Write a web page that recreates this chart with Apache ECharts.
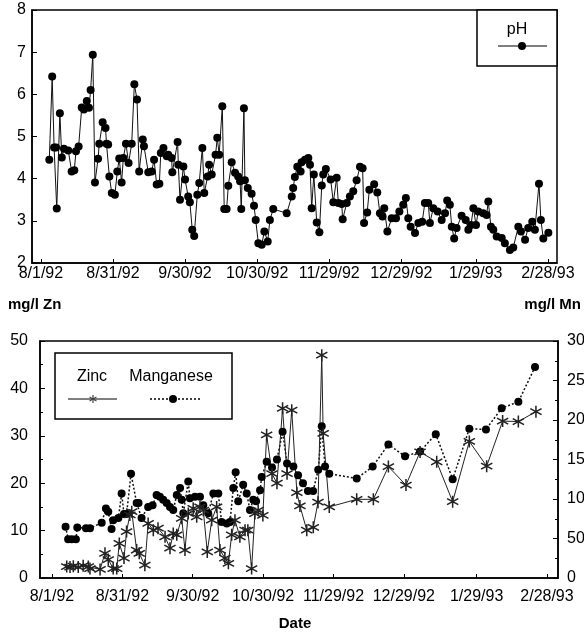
<!DOCTYPE html>
<html>
<head>
<meta charset="utf-8">
<script src="https://cdn.jsdelivr.net/npm/echarts@6.0.0/dist/echarts.min.js"></script>
<style>
  html, body { margin: 0; padding: 0; background: #fff; }
  #chart { width: 584px; height: 634px; }
</style>
</head>
<body>
<div id="chart"></div>
<script>
// days counted from 8/1/92
const tickDays = [0, 30, 60, 90, 120, 150, 181, 211];
const tickLabels = ['8/1/92', '8/31/92', '9/30/92', '10/30/92', '11/29/92', '12/29/92', '1/29/93', '2/28/93'];

// pH (top panel)
const phDays = [3.5, 4.7, 5.5, 6.3, 6.6, 7.9, 8.7, 9.6, 11.4, 12.8, 13.9, 14.6, 15.7, 17, 17.9, 19.1, 20, 20.7, 21.6, 22.5,
  23.8, 24.3, 25.7, 26.9, 27.3, 28, 28.5, 29.5, 30.8, 31.8, 32.6, 33.6, 34.3, 35.4, 36.5, 37.8, 38.9, 40, 40.9, 42.4,
  42.9, 44.7, 46.1, 47.1, 48.2, 49.3, 49.9, 51, 52.4, 53, 54.4, 54.7, 56.9, 57.2, 57.9, 59.3, 60, 61.3, 62, 63,
  63.8, 65.1, 65.9, 67.2, 68, 69.4, 70, 71.1, 72.7, 73.4, 74.2, 75.5, 76.3, 77.3, 78, 79.4, 80.8, 82.1, 82.9, 83.4,
  84.5, 84.9, 86.1, 87.7, 88.7, 89.4, 90.5, 91.9, 93, 94.4, 95.3, 96.7, 102.3, 104.4, 105, 105.7, 106.7, 108.1, 108.5, 109.9,
  111.3, 112, 112.7, 113.6, 114.8, 115.9, 116.9, 117.5, 118.6, 120.6, 121.7, 123.1, 123.8, 125.2, 125.6, 127.3, 128.6, 130, 131.4, 132.8,
  133.9, 134.5, 135.8, 136.7, 138.7, 140, 141.1, 142.2, 142.9, 144.2, 146, 147.8, 149.2, 150.8, 151.9, 152.9, 153.9, 155.7, 157.1, 158.7,
  159.8, 161.2, 161.9, 163.3, 165.1, 166.8, 168.2, 169.1, 170.2, 171, 172, 173, 175.1, 176.8, 177.9, 179, 180, 181.1, 182, 184.1,
  185.5, 186.2, 187.3, 188.3, 189.7, 191.8, 193.1, 195.2, 196.6, 198.7, 199.8, 201.5, 202.8, 204.5, 205.6, 207.3, 208.1, 209.1, 211.2];
const phValues = [4.45, 6.42, 4.74, 4.74, 3.29, 5.55, 4.5, 4.71, 4.67, 4.17, 4.2, 4.65, 4.76, 5.69, 5.64, 5.84, 5.68, 6.1, 6.94, 3.91,
  4.47, 4.83, 5.34, 5.2, 4.83, 4.81, 4.05, 3.66, 3.62, 4.17, 4.48, 3.91, 4.49, 4.83, 4.37, 4.83, 6.24, 5.88, 4.17, 4.93,
  4.77, 4.15, 4.17, 4.45, 3.86, 3.88, 4.61, 4.73, 4.53, 4.57, 4.49, 4.15, 4.87, 4.33, 3.5, 4.29, 3.98, 3.58, 3.44, 2.79,
  2.64, 3.62, 3.9, 4.73, 3.66, 4.05, 4.33, 4.1, 4.57, 4.97, 4.57, 5.72, 3.28, 3.28, 3.83, 4.39, 4.14, 4.05, 3.94, 3.28,
  5.67, 3.96, 3.78, 3.64, 3.36, 3.02, 2.47, 2.43, 2.75, 2.51, 3.02, 3.28, 3.18, 3.58, 3.78, 4.04, 4.28, 4.17, 4.39, 4.45,
  4.49, 4.33, 3.3, 4.1, 2.96, 2.73, 3.84, 4.1, 4.23, 3.98, 3.44, 4.02, 3.42, 3.4, 3.04, 3.42, 3.58, 3.7, 3.96, 4.28,
  4.25, 2.95, 3.2, 3.74, 3.87, 3.67, 3.18, 3.1, 3.3, 2.75, 3.06, 3.06, 3.22, 3.38, 3.54, 3.06, 2.86, 2.71, 2.95, 2.98,
  3.42, 3.42, 2.95, 3.3, 3.22, 3.02, 3.18, 3.48, 3.38, 2.86, 2.58, 2.83, 3.12, 3.02, 2.79, 2.9, 3.3, 2.9, 3.22, 3.18,
  3.14, 3.46, 2.86, 2.79, 2.63, 2.59, 2.47, 2.31, 2.37, 2.86, 2.75, 2.55, 2.83, 2.98, 2.79, 3.88, 3.02, 2.58, 2.72];

// zinc, mg/l (bottom panel, left axis)
const znDays = [6.3, 7.7, 9.1, 11.2, 13.3, 15.5, 16.2, 20.5, 22.6, 24, 26.1, 27.6, 28.7, 30.7, 31.8, 33.2, 34, 36.1, 37.2, 39.6,
  41, 43.2, 45.2, 48.2, 50.3, 51.7, 53.2, 55.3, 56.7, 58.1, 60.2, 61.7, 63.1, 64.5, 66.2, 68.1, 70.2, 71.6, 73.7, 75.2,
  76.6, 78, 80.1, 82.3, 83.5, 85.1, 86.5, 87.9, 89.9, 91.5, 93.8, 95.9, 98.3, 100.2, 102.2, 104.4, 105.7, 108.6, 111.4, 113.4,
  115, 115.6, 118.2, 129.9, 137, 143.4, 150.9, 156.9, 164, 170.8, 177.9, 185.3, 192.1, 198.8, 206.3];
const znValues = [2.4, 2.3, 2.5, 2.3, 2.6, 2.4, 2.0, 1.8, 5.2, 3.9, 2.0, 2.0, 7.3, 4.2, 9.8, 13.3, 14, 5.9, 5.2, 2.7,
  11.5, 10.1, 10.5, 8.7, 6.3, 9.4, 9.1, 12.6, 5.9, 13.6, 14.7, 12.9, 15, 14.3, 5.5, 12.2, 15, 5.9, 4.2, 3.1,
  9.1, 12.2, 8.7, 10.1, 10.1, 2.0, 13.6, 14.3, 13.2, 30.2, 22, 20, 35.8, 22, 35.4, 18, 15.2, 10.1, 10.7, 16,
  47, 30.5, 15, 16.6, 16.6, 23.5, 19.6, 26.6, 24.5, 16.1, 28.8, 23.6, 33.1, 33, 35.1];

// manganese, mg/l (bottom panel, right axis)
const mnDays = [5.8, 6.9, 8.4, 10.2, 10.8, 14.5, 16.2, 21.2, 23, 24, 25.4, 26.1, 28.3, 29.7, 30.7, 31.8, 33.7, 36.1, 36.9, 38.2,
  41, 42.9, 44.6, 46, 47.4, 48.9, 50.3, 51.7, 53.2, 54.6, 55.3, 56, 58.1, 58.8, 61, 63.1, 64.5, 66.6, 68.8, 70.9,
  72.3, 74.5, 75.9, 77.3, 78.3, 79.4, 81.5, 83, 84.4, 85.8, 87, 88.7, 89.4, 91.5, 93.8, 95.9, 98.3, 100.2, 102.9, 104.9,
  107, 109.1, 111.3, 113.5, 115, 116.4, 118.2, 129.9, 136.7, 143.4, 150.5, 156.9, 163.6, 170.8, 177.9, 185, 191.7, 198.8, 205.9];
const mnValues = [65, 49, 49, 49, 64, 63, 63, 70, 88, 84, 62, 73, 76, 107, 81, 81, 132, 95, 95, 76,
  90, 92, 105, 103, 99, 95, 90, 86, 105, 114, 99, 82, 122, 101, 103, 103, 92, 82, 107, 107,
  71, 69, 71, 114, 134, 97, 118, 107, 86, 99, 97, 111, 128, 147, 140, 150, 185, 145, 141, 130,
  120, 110, 110, 137, 192, 141, 132, 126, 141, 169, 154, 160, 182, 125, 189, 188, 215, 223, 267];

const zip = (xs, ys) => xs.map((x, i) => [x, ys[i]]);

// asterisk marker for zinc
const asterisk = 'path://M8.8 0L11.2 0L11.2 20L8.8 20Z M0.6 6.04L1.8 3.96L19.4 13.96L18.2 16.04Z M18.2 3.96L19.4 6.04L1.8 16.04L0.6 13.96Z';

const FONT = '"Liberation Sans", Arial, sans-serif';
const txt = { color: '#000', fontFamily: FONT, fontSize: 16 };

let myChart = echarts.init(document.getElementById('chart'), null, { renderer: 'canvas' });

let xAxisBase = (min, max, margin) => ({
  type: 'value',
  min: min,
  max: max,
  axisLine: { onZero: false, lineStyle: { color: '#000', width: 1.5 } },
  axisTick: { inside: true, length: 4, customValues: tickDays, lineStyle: { color: '#000' } },
  axisLabel: {
    customValues: tickDays,
    margin: margin,
    ...txt,
    formatter: v => tickLabels[tickDays.indexOf(v)] || ''
  },
  splitLine: { show: false }
});

let yAxisBase = (min, max, interval, margin, pos) => ({
  type: 'value',
  position: pos,
  min: min,
  max: max,
  interval: interval,
  axisLine: { show: true, onZero: false, lineStyle: { color: '#000', width: 1.5 } },
  axisTick: { show: true, inside: true, length: 5, lineStyle: { color: '#000' } },
  minorTick: { show: true, splitNumber: 2, length: 3, lineStyle: { color: '#000' } },
  axisLabel: { margin: margin, ...txt },
  splitLine: { show: false }
});

// little asterisk in the legend, made of three strokes
let legendStar = (cx, cy, r) => [[0, r], [r * 0.866, r * 0.5], [r * 0.866, -r * 0.5]].map(d => ({
  type: 'line',
  shape: { x1: cx - d[0], y1: cy - d[1], x2: cx + d[0], y2: cy + d[1] },
  style: { stroke: '#444', lineWidth: 1.2 },
  z: 11
}));

let option = {
  animation: false,
  backgroundColor: '#fff',
  grid: [
    { left: 32, top: 10, width: 525, height: 253, show: true, borderColor: '#000', borderWidth: 1.5,
      backgroundColor: 'transparent', containLabel: false, outerBoundsMode: 'none' },
    { left: 40, top: 341, width: 518, height: 237, show: true, borderColor: '#000', borderWidth: 1.5,
      backgroundColor: 'transparent', containLabel: false, outerBoundsMode: 'none' }
  ],
  xAxis: [
    Object.assign(xAxisBase(-3.7, 214.8, 3), { gridIndex: 0 }),
    Object.assign(xAxisBase(-5.1, 215.7, 11), { gridIndex: 1 })
  ],
  yAxis: [
    Object.assign(yAxisBase(2, 8, 1, 6, 'left'), { gridIndex: 0, minorTick: { show: false } }),
    Object.assign(yAxisBase(0, 50, 10, 12, 'left'), { gridIndex: 1 }),
    Object.assign(yAxisBase(0, 300, 50, 9, 'right'), { gridIndex: 1 })
  ],
  series: [
    {
      name: 'pH',
      type: 'line',
      xAxisIndex: 0,
      yAxisIndex: 0,
      data: zip(phDays, phValues),
      symbol: 'circle',
      symbolSize: 8,
      showAllSymbol: true,
      lineStyle: { color: '#111', width: 1 },
      itemStyle: { color: '#000' }
    },
    {
      name: 'Manganese',
      type: 'line',
      xAxisIndex: 1,
      yAxisIndex: 2,
      data: zip(mnDays, mnValues),
      symbol: 'circle',
      symbolSize: 8,
      showAllSymbol: true,
      lineStyle: { color: '#111', width: 1.5, type: [2, 2] },
      itemStyle: { color: '#000' }
    },
    {
      name: 'Zinc',
      type: 'line',
      xAxisIndex: 1,
      yAxisIndex: 1,
      data: zip(znDays, znValues),
      symbol: asterisk,
      symbolSize: 12,
      showAllSymbol: true,
      lineStyle: { color: '#222', width: 1 },
      itemStyle: { color: '#222' }
    }
  ],
  graphic: [
    // pH legend
    { type: 'rect', shape: { x: 477, y: 10, width: 80, height: 56 }, style: { fill: '#fff', stroke: '#000', lineWidth: 1.5 }, z: 10 },
    { type: 'text', x: 517, y: 30, style: { text: 'pH', fill: '#000', font: '16px ' + FONT, textAlign: 'center', textVerticalAlign: 'middle' }, z: 11 },
    { type: 'line', shape: { x1: 498, y1: 46, x2: 547, y2: 46 }, style: { stroke: '#000', lineWidth: 1 }, z: 11 },
    { type: 'circle', shape: { cx: 522, cy: 46, r: 4 }, style: { fill: '#000' }, z: 11 },
    // zinc / manganese legend
    { type: 'rect', shape: { x: 55, y: 353, width: 177, height: 66 }, style: { fill: '#fff', stroke: '#000', lineWidth: 1.5 }, z: 10 },
    { type: 'text', x: 92, y: 377, style: { text: 'Zinc', fill: '#000', font: '16px ' + FONT, textAlign: 'center', textVerticalAlign: 'middle' }, z: 11 },
    { type: 'text', x: 171, y: 377, style: { text: 'Manganese', fill: '#000', font: '16px ' + FONT, textAlign: 'center', textVerticalAlign: 'middle' }, z: 11 },
    { type: 'line', shape: { x1: 68, y1: 399, x2: 117, y2: 399 }, style: { stroke: '#000', lineWidth: 1 }, z: 11 },
    ...legendStar(93, 399, 4),
    { type: 'line', shape: { x1: 150, y1: 399, x2: 200, y2: 399 }, style: { stroke: '#000', lineWidth: 1.5, lineDash: [2, 2] }, z: 11 },
    { type: 'circle', shape: { cx: 173, cy: 399, r: 4 }, style: { fill: '#000' }, z: 11 },
    // axis titles
    { type: 'text', x: 8, y: 305, style: { text: 'mg/l Zn', fill: '#000', font: 'bold 15px ' + FONT, textVerticalAlign: 'middle' } },
    { type: 'text', x: 581, y: 305, style: { text: 'mg/l Mn', fill: '#000', font: 'bold 15px ' + FONT, textAlign: 'right', textVerticalAlign: 'middle' } },
    { type: 'text', x: 295, y: 624, style: { text: 'Date', fill: '#000', font: 'bold 15px ' + FONT, textAlign: 'center', textVerticalAlign: 'middle' } }
  ]
};

myChart.setOption(option);
</script>
</body>
</html>
